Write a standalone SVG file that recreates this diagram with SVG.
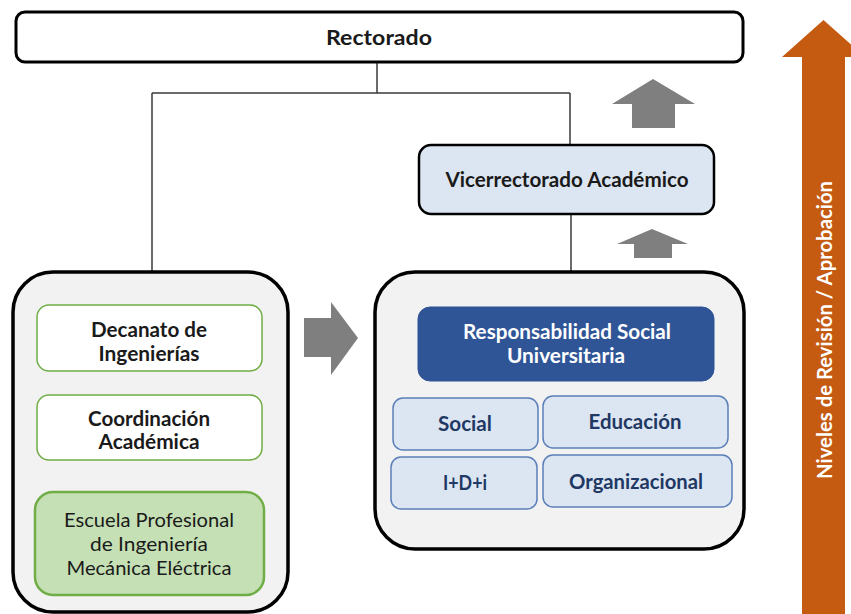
<svg xmlns="http://www.w3.org/2000/svg" width="851" height="614" viewBox="0 0 851 614">
<defs>
<style>
.t{font-family:Lato,"Open Sans","Liberation Sans",sans-serif;text-anchor:middle;font-size:20px}
.b{font-weight:bold}
.dark{fill:#1a1a1a}
.blue{fill:#1f3864}
.cont{fill:#f2f2f2;stroke:#000;stroke-width:3.5}
.greenbox{fill:#fff;stroke:#70ad47;stroke-width:1.5}
.sub{fill:#dce6f2;stroke:#5b7fb8;stroke-width:1.5}
.conn{stroke:#3a3a3a;stroke-width:1.5;fill:none}
.garrow{fill:#7f7f7f}
</style>
</defs>
<rect width="851" height="614" fill="#fff"/>

<!-- orange level arrow -->
<g id="levels">
<polygon points="823.5,20 865,57 845,57 845,614 802,614 802,57 782,57" fill="#c55a11"/>
<text class="t b" x="0" y="0" font-size="18" fill="#fff" transform="translate(832,330) rotate(-90)" textLength="298" lengthAdjust="spacingAndGlyphs">Niveles de Revisión / Aprobación</text>
</g>

<!-- gray block arrows -->
<g id="up-arrow-1"><polygon class="garrow" points="653,79 695,104 675,104 675,128 632,128 632,104 612,104"/></g>
<g id="up-arrow-2"><polygon class="garrow" points="652,229 688,244 672,244 672,258 634,258 634,244 617,244"/></g>
<g id="right-arrow"><polygon class="garrow" points="304,318 331,318 331,302 358,338 331,375 331,357 304,357"/></g>

<!-- connectors -->
<g id="connectors">
<path class="conn" d="M377,62 V93 M152,93 H570 M152,93 V272 M570,93 V144 M571,215 V272 M150,371 V395 M150,460 V492"/>
</g>

<g id="rectorado">
<rect x="16" y="12" width="727" height="50" rx="9" fill="#fff" stroke="#000" stroke-width="3"/>
<text class="t b dark" x="379" y="45" font-size="21" textLength="106" lengthAdjust="spacingAndGlyphs">Rectorado</text>
</g>

<g id="vicerrectorado">
<rect x="419" y="145" width="295" height="69" rx="12" fill="#dce6f2" stroke="#000" stroke-width="2.5"/>
<text class="t b dark" x="567" y="187" textLength="243" lengthAdjust="spacingAndGlyphs">Vicerrectorado Académico</text>
</g>

<g id="left-container">
<rect class="cont" x="13" y="272" width="275" height="340" rx="40"/>
</g>

<g id="decanato">
<rect class="greenbox" x="37" y="305" width="225" height="66" rx="12"/>
<text class="t b dark" x="149" y="337" textLength="116" lengthAdjust="spacingAndGlyphs">Decanato de</text>
<text class="t b dark" x="149" y="361" textLength="101" lengthAdjust="spacingAndGlyphs">Ingenierías</text>
</g>

<g id="coordinacion">
<rect class="greenbox" x="37" y="395" width="225" height="65" rx="12"/>
<text class="t b dark" x="149" y="426" textLength="122" lengthAdjust="spacingAndGlyphs">Coordinación</text>
<text class="t b dark" x="149" y="449" textLength="101" lengthAdjust="spacingAndGlyphs">Académica</text>
</g>

<g id="escuela">
<rect x="35" y="492" width="229" height="103" rx="18" fill="#c5e0b4" stroke="#70ad47" stroke-width="2.5"/>
<text class="t dark" x="149" y="527" textLength="170" lengthAdjust="spacingAndGlyphs">Escuela Profesional</text>
<text class="t dark" x="149" y="551" textLength="118" lengthAdjust="spacingAndGlyphs">de Ingeniería</text>
<text class="t dark" x="149" y="575" textLength="165" lengthAdjust="spacingAndGlyphs">Mecánica Eléctrica</text>
</g>

<g id="right-container">
<rect class="cont" x="375" y="272" width="369" height="277" rx="40"/>
</g>

<g id="rsu">
<rect x="418" y="307" width="296" height="74" rx="12" fill="#2f5597" stroke="#2f5597" stroke-width="1"/>
<text class="t b" x="567" y="339" fill="#fff" textLength="208" lengthAdjust="spacingAndGlyphs">Responsabilidad Social</text>
<text class="t b" x="566" y="363" fill="#fff" textLength="118" lengthAdjust="spacingAndGlyphs">Universitaria</text>
</g>

<g id="social">
<rect class="sub" x="393" y="398" width="145" height="52" rx="10"/>
<text class="t b blue" x="465" y="431" textLength="54" lengthAdjust="spacingAndGlyphs">Social</text>
</g>
<g id="educacion">
<rect class="sub" x="543" y="396" width="185" height="52" rx="10"/>
<text class="t b blue" x="635" y="429" textLength="93" lengthAdjust="spacingAndGlyphs">Educación</text>
</g>
<g id="idi">
<rect class="sub" x="391" y="457" width="146" height="52" rx="10"/>
<text class="t b blue" x="465" y="490" textLength="44" lengthAdjust="spacingAndGlyphs">I+D+i</text>
</g>
<g id="organizacional">
<rect class="sub" x="543" y="455" width="189" height="52" rx="10"/>
<text class="t b blue" x="636" y="489" textLength="134" lengthAdjust="spacingAndGlyphs">Organizacional</text>
</g>
</svg>
